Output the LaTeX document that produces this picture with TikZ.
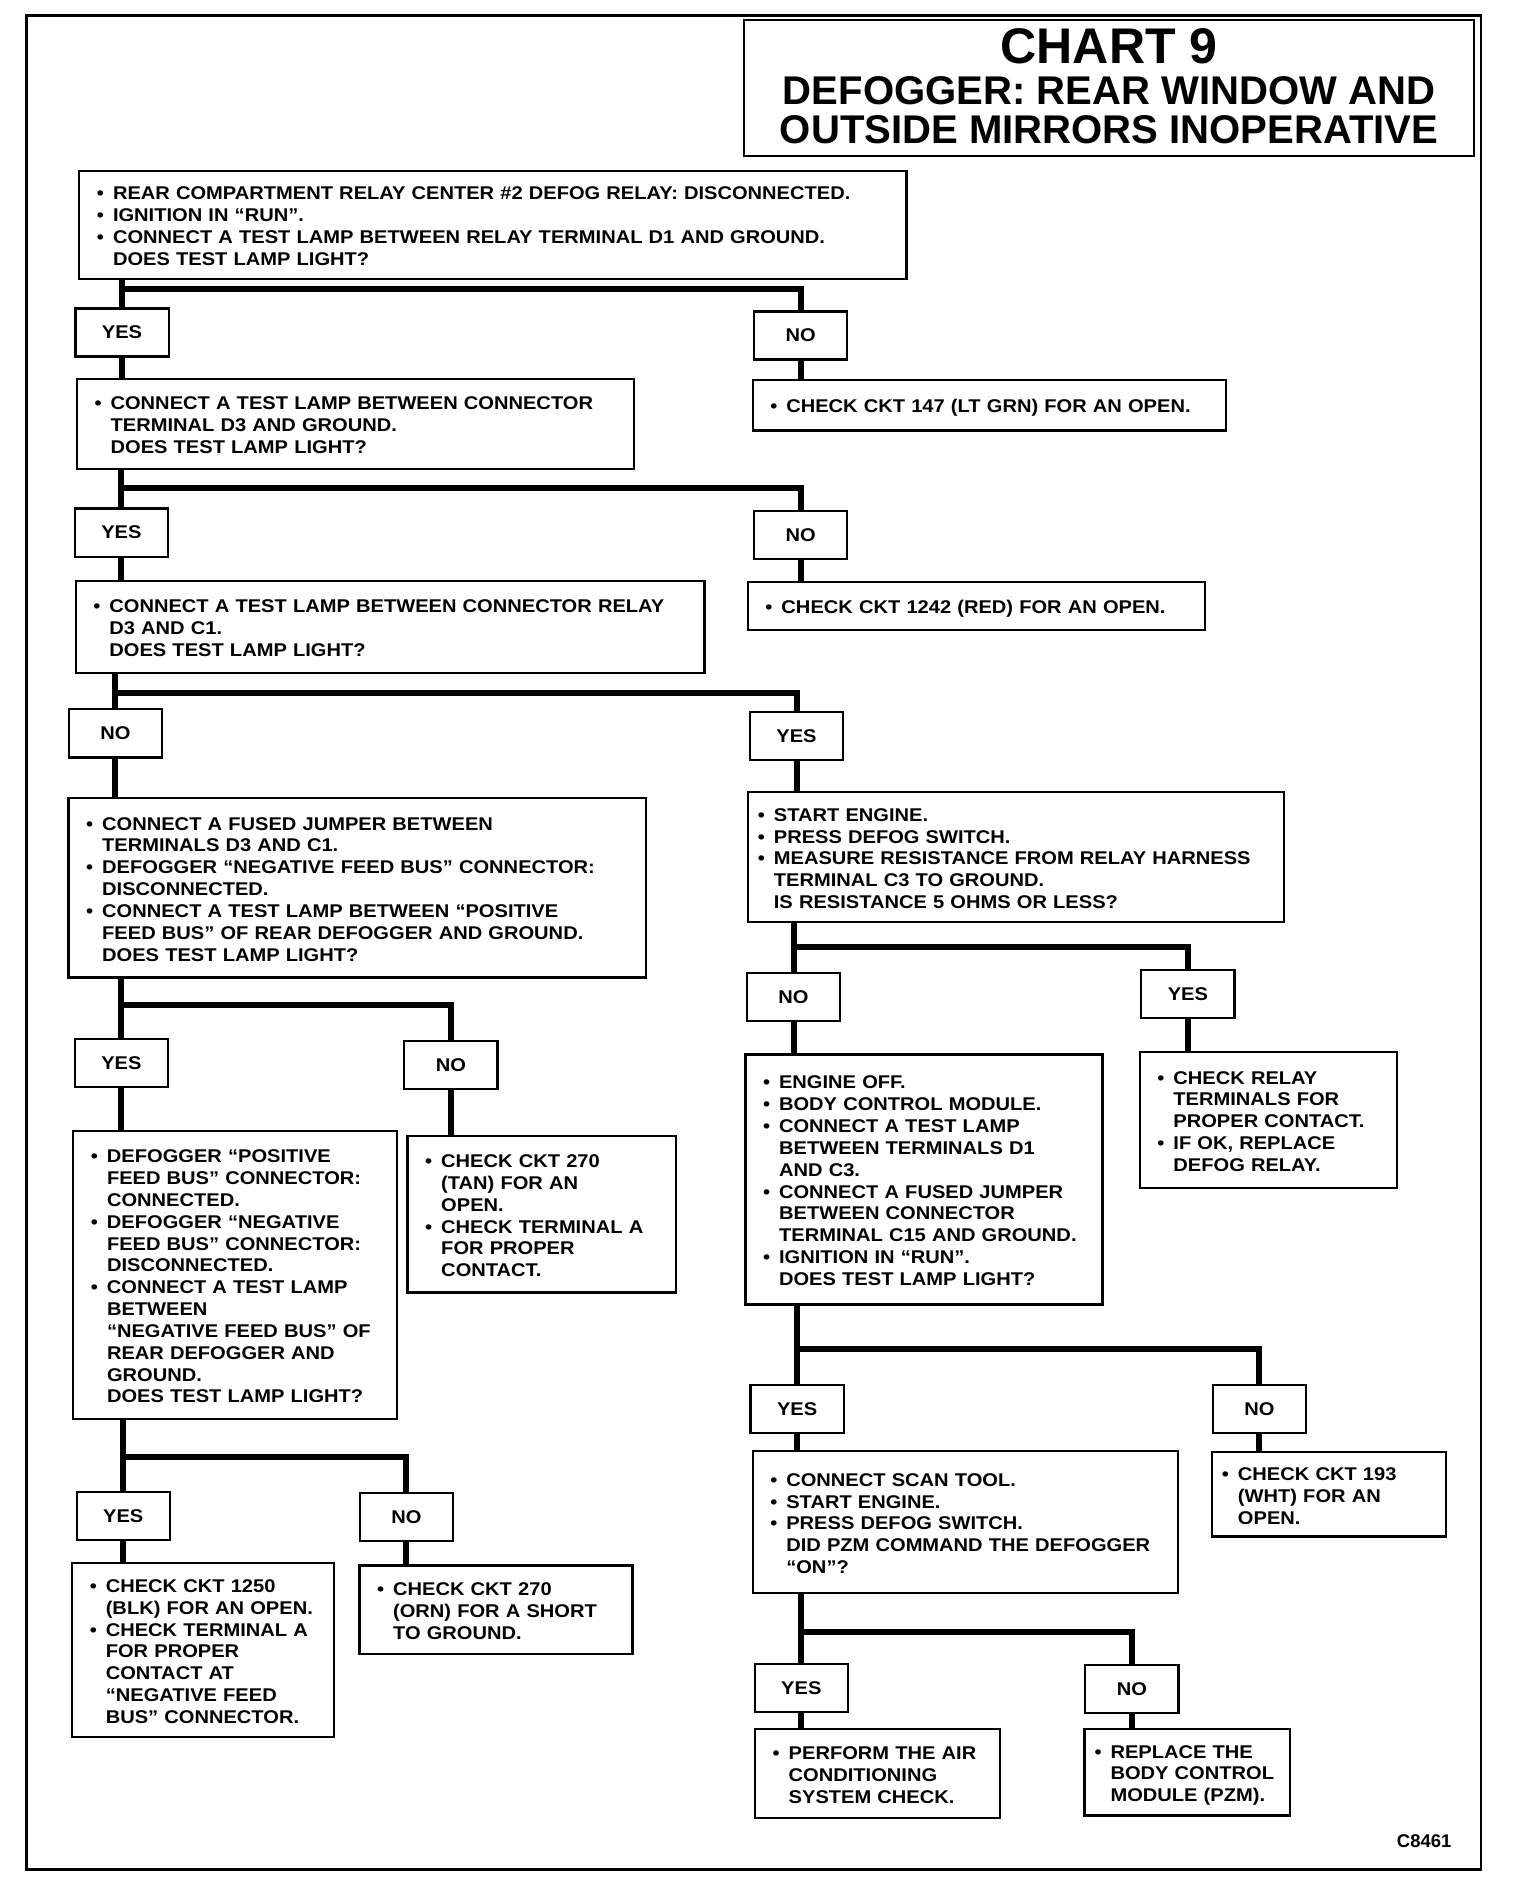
\documentclass[tikz,border=0pt]{standalone}
\usepackage{fontspec}
\setmainfont{Liberation Sans}
\newfontfamily\stepfont{Liberation Sans}[FakeStretch=1.09]
\newcommand{\stepbul}{\makebox[8pt][l]{\textbullet}}
\newcommand{\stepind}{\hspace*{8pt}}
\newcommand{\steplines}[1]{\noindent\begin{tabular}{@{}l@{}}\rule{0pt}{11pt}#1\end{tabular}}

\begin{document}
\begin{tikzpicture}[x = 0.6pt, y = -0.6pt, font = \bfseries]
	\tikzstyle{stepStyle} = [draw, line width = 1.1pt, align = left, inner xsep = 8.8pt, inner ysep = 2pt, font = \stepfont\bfseries\fontsize{9.2}{10.9}\selectfont]
	\tikzstyle{answerStyle} = [draw, line width = 1.1pt, minimum width = 46.5pt, minimum height = 24pt, inner sep = 1pt, font = \stepfont\bfseries\fontsize{9.2}{10.9}\selectfont]
	\tikzstyle{branchStyle} = [line width = 3pt]
	\useasboundingbox (0,0) rectangle (1264,1567);
	\draw[line width = 1.2pt] (22,13) rectangle (1232,1555);
	\node[draw, line width = 1pt, minimum width = 364.2pt, minimum height = 67.8pt, align = center, inner sep = 1pt, font = \bfseries\fontsize{20}{19.2}\selectfont] (title) at (922.5,73.5) {{\fontsize{25}{25}\selectfont CHART 9}\\[1.4pt] DEFOGGER: REAR WINDOW AND\\ OUTSIDE MIRRORS INOPERATIVE\rule[-2.4pt]{0pt}{0pt}};
	\node[stepStyle, text width = 395.2pt, minimum height = 54pt] (s1) at (410,187) {\steplines{\stepbul REAR COMPARTMENT RELAY CENTER \#2 DEFOG RELAY: DISCONNECTED.\\ \stepbul IGNITION IN “RUN”.\\ \stepbul CONNECT A TEST LAMP BETWEEN RELAY TERMINAL D1 AND GROUND.\\ \stepind DOES TEST LAMP LIGHT?}};
	\node[answerStyle] (yes1) at (101.5,276.5) {YES};
	\node[answerStyle] (no1) at (666,279) {NO};
	\node[stepStyle, text width = 260.2pt, minimum height = 45pt] (s2) at (295.5,352.5) {\steplines{\stepbul CONNECT A TEST LAMP BETWEEN CONNECTOR\\ \stepind TERMINAL D3 AND GROUND.\\ \stepind DOES TEST LAMP LIGHT?}};
	\node[stepStyle, text width = 218.8pt, minimum height = 25.2pt] (c1) at (823,337) {\steplines{\stepbul CHECK CKT 147 (LT GRN) FOR AN OPEN.}};
	\node[answerStyle] (yes2) at (101,443) {YES};
	\node[answerStyle] (no2) at (666,445) {NO};
	\node[stepStyle, text width = 296.2pt, minimum height = 46.2pt] (s3) at (324.5,521.5) {\steplines{\stepbul CONNECT A TEST LAMP BETWEEN CONNECTOR RELAY\\ \stepind D3 AND C1.\\ \stepind DOES TEST LAMP LIGHT?}};
	\node[stepStyle, text width = 210.4pt, minimum height = 24pt] (c2) at (812,504) {\steplines{\stepbul CHECK CKT 1242 (RED) FOR AN OPEN.}};
	\node[answerStyle] (no3) at (96,610) {NO};
	\node[answerStyle] (yes3) at (662.5,612) {YES};
	\node[stepStyle, text width = 270.4pt, minimum height = 89.4pt] (s4) at (297,738.5) {\steplines{\stepbul CONNECT A FUSED JUMPER BETWEEN\\ \stepind TERMINALS D3 AND C1.\\ \stepbul DEFOGGER “NEGATIVE FEED BUS” CONNECTOR:\\ \stepind DISCONNECTED.\\ \stepbul CONNECT A TEST LAMP BETWEEN “POSITIVE\\ \stepind FEED BUS” OF REAR DEFOGGER AND GROUND.\\ \stepind DOES TEST LAMP LIGHT?}};
	\node[stepStyle, inner xsep = 5pt, text width = 257.6pt, minimum height = 64.8pt] (s5) at (845,713) {\steplines{\stepbul START ENGINE.\\ \stepbul PRESS DEFOG SWITCH.\\ \stepbul MEASURE RESISTANCE FROM RELAY HARNESS\\ \stepind TERMINAL C3 TO GROUND.\\ \stepind IS RESISTANCE 5 OHMS OR LESS?}};
	\node[answerStyle] (yes4) at (101,884) {YES};
	\node[answerStyle] (no4) at (375,886) {NO};
	\node[answerStyle] (no5) at (660,829) {NO};
	\node[answerStyle] (yes5) at (988,827) {YES};
	\node[stepStyle, text width = 143.8pt, minimum height = 143.4pt] (s6) at (195.5,1060.5) {\steplines{\stepbul DEFOGGER “POSITIVE\\ \stepind FEED BUS” CONNECTOR:\\ \stepind CONNECTED.\\ \stepbul DEFOGGER “NEGATIVE\\ \stepind FEED BUS” CONNECTOR:\\ \stepind DISCONNECTED.\\ \stepbul CONNECT A TEST LAMP\\ \stepind BETWEEN\\ \stepind “NEGATIVE FEED BUS” OF\\ \stepind REAR DEFOGGER AND\\ \stepind GROUND.\\ \stepind DOES TEST LAMP LIGHT?}};
	\node[stepStyle, text width = 116.2pt, minimum height = 78pt] (c3) at (450.5,1010) {\steplines{\stepbul CHECK CKT 270\\ \stepind (TAN) FOR AN\\ \stepind OPEN.\\ \stepbul CHECK TERMINAL A\\ \stepind FOR PROPER\\ \stepind CONTACT.}};
	\node[stepStyle, text width = 160.6pt, minimum height = 124.8pt] (s7) at (768.5,981) {\steplines{\stepbul ENGINE OFF.\\ \stepbul BODY CONTROL MODULE.\\ \stepbul CONNECT A TEST LAMP\\ \stepind BETWEEN TERMINALS D1\\ \stepind AND C3.\\ \stepbul CONNECT A FUSED JUMPER\\ \stepind BETWEEN CONNECTOR\\ \stepind TERMINAL C15 AND GROUND.\\ \stepbul IGNITION IN “RUN”.\\ \stepind DOES TEST LAMP LIGHT?}};
	\node[stepStyle, text width = 110.8pt, minimum height = 67.8pt] (c4) at (1055,931.5) {\steplines{\stepbul CHECK RELAY\\ \stepind TERMINALS FOR\\ \stepind PROPER CONTACT.\\ \stepbul IF OK, REPLACE\\ \stepind DEFOG RELAY.}};
	\node[answerStyle] (yes6) at (102.5,1261) {YES};
	\node[answerStyle] (no6) at (338,1262) {NO};
	\node[stepStyle, text width = 113.2pt, minimum height = 87pt] (c5) at (169,1372.5) {\steplines{\stepbul CHECK CKT 1250\\ \stepind (BLK) FOR AN OPEN.\\ \stepbul CHECK TERMINAL A\\ \stepind FOR PROPER\\ \stepind CONTACT AT\\ \stepind “NEGATIVE FEED\\ \stepind BUS” CONNECTOR.}};
	\node[stepStyle, text width = 118.6pt, minimum height = 44.4pt] (c6) at (412.5,1339) {\steplines{\stepbul CHECK CKT 270\\ \stepind (ORN) FOR A SHORT\\ \stepind TO GROUND.}};
	\node[answerStyle] (yes7) at (663,1172) {YES};
	\node[answerStyle] (no7) at (1047.5,1172) {NO};
	\node[stepStyle, text width = 194.8pt, minimum height = 70.8pt] (s8) at (803,1266) {\steplines{\stepbul CONNECT SCAN TOOL.\\ \stepbul START ENGINE.\\ \stepbul PRESS DEFOG SWITCH.\\ \stepind DID PZM COMMAND THE DEFOGGER\\ \stepind “ON”?}};
	\node[stepStyle, inner xsep = 5pt, text width = 107pt, minimum height = 42pt] (c7) at (1105.5,1243) {\steplines{\stepbul CHECK CKT 193\\ \stepind (WHT) FOR AN\\ \stepind OPEN.}};
	\node[answerStyle] (yes8) at (666.5,1404) {YES};
	\node[answerStyle] (no8) at (941.5,1405) {NO};
	\node[stepStyle, text width = 104.8pt, minimum height = 44.4pt] (c8) at (730,1475) {\steplines{\stepbul PERFORM THE AIR\\ \stepind CONDITIONING\\ \stepind SYSTEM CHECK.}};
	\node[stepStyle, inner xsep = 5pt, text width = 92.6pt, minimum height = 43.2pt] (c9) at (987.5,1474) {\steplines{\stepbul REPLACE THE\\ \stepind BODY CONTROL\\ \stepind MODULE (PZM).}};
	\node[anchor = east, font = \bfseries\fontsize{9.2}{11}\selectfont] (code) at (1213,1531) {C8461};
	\coordinate (bar1) at (0,240);
	\coordinate (bar2) at (0,406);
	\coordinate (bar3) at (0,576);
	\coordinate (bar4) at (0,836);
	\coordinate (bar5) at (0,788);
	\coordinate (bar6) at (0,1212);
	\coordinate (bar7) at (0,1122);
	\coordinate (bar8) at (0,1357);
	\draw[branchStyle] (yes1.north |- s1.south) -- (yes1.north);
	\draw[branchStyle] (yes1.north |- bar1) -| (no1.north);
	\draw[branchStyle] (yes1.south) -- (yes1.south |- s2.north);
	\draw[branchStyle] (no1.south) -- (no1.south |- c1.north);
	\draw[branchStyle] (yes2.north |- s2.south) -- (yes2.north);
	\draw[branchStyle] (yes2.north |- bar2) -| (no2.north);
	\draw[branchStyle] (yes2.south) -- (yes2.south |- s3.north);
	\draw[branchStyle] (no2.south) -- (no2.south |- c2.north);
	\draw[branchStyle] (no3.north |- s3.south) -- (no3.north);
	\draw[branchStyle] (no3.north |- bar3) -| (yes3.north);
	\draw[branchStyle] (no3.south) -- (no3.south |- s4.north);
	\draw[branchStyle] (yes3.south) -- (yes3.south |- s5.north);
	\draw[branchStyle] (yes4.north |- s4.south) -- (yes4.north);
	\draw[branchStyle] (yes4.north |- bar4) -| (no4.north);
	\draw[branchStyle] (yes4.south) -- (yes4.south |- s6.north);
	\draw[branchStyle] (no4.south) -- (no4.south |- c3.north);
	\draw[branchStyle] (no5.north |- s5.south) -- (no5.north);
	\draw[branchStyle] (no5.north |- bar5) -| (yes5.north);
	\draw[branchStyle] (no5.south) -- (no5.south |- s7.north);
	\draw[branchStyle] (yes5.south) -- (yes5.south |- c4.north);
	\draw[branchStyle] (yes6.north |- s6.south) -- (yes6.north);
	\draw[branchStyle] (yes6.north |- bar6) -| (no6.north);
	\draw[branchStyle] (yes6.south) -- (yes6.south |- c5.north);
	\draw[branchStyle] (no6.south) -- (no6.south |- c6.north);
	\draw[branchStyle] (yes7.north |- s7.south) -- (yes7.north);
	\draw[branchStyle] (yes7.north |- bar7) -| (no7.north);
	\draw[branchStyle] (yes7.south) -- (yes7.south |- s8.north);
	\draw[branchStyle] (no7.south) -- (no7.south |- c7.north);
	\draw[branchStyle] (yes8.north |- s8.south) -- (yes8.north);
	\draw[branchStyle] (yes8.north |- bar8) -| (no8.north);
	\draw[branchStyle] (yes8.south) -- (yes8.south |- c8.north);
	\draw[branchStyle] (no8.south) -- (no8.south |- c9.north);
\end{tikzpicture}
\end{document}
